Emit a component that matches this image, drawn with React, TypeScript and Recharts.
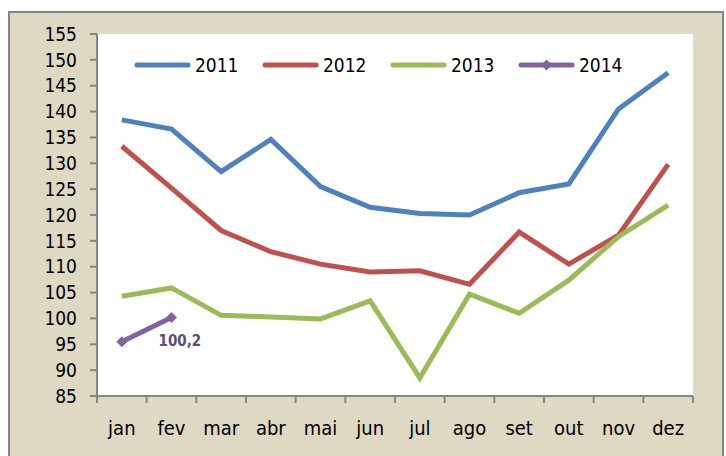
import { CartesianGrid, LabelList, Line, LineChart, XAxis, YAxis } from 'recharts';

const months = ['jan', 'fev', 'mar', 'abr', 'mai', 'jun', 'jul', 'ago', 'set', 'out', 'nov', 'dez'];
const values2011 = [138.4, 136.6, 128.4, 134.6, 125.5, 121.5, 120.3, 120.0, 124.3, 126.0, 140.5, 147.5];
const values2012 = [133.3, 125.2, 117.0, 112.9, 110.5, 109.0, 109.2, 106.6, 116.7, 110.5, 116.1, 129.8];
const values2013 = [104.3, 105.9, 100.6, 100.3, 99.9, 103.4, 88.5, 104.7, 101.0, 107.4, 115.8, 121.9];
const values2014 = [95.5, 100.2];
const yTicks = [85, 90, 95, 100, 105, 110, 115, 120, 125, 130, 135, 140, 145, 150, 155];

const FONT = "'DejaVu Sans Condensed', 'Liberation Sans Narrow', sans-serif";
const AXIS = '#868686';
const PLOT_W = 596;
const BAND = PLOT_W / months.length;

const series = [
  { key: 'y2011', name: '2011', color: '#4F81BD' },
  { key: 'y2012', name: '2012', color: '#C0504D' },
  { key: 'y2013', name: '2013', color: '#9BBB59' },
  { key: 'y2014', name: '2014', color: '#8064A2' },
];

const data = months.map((m, i) => ({
  month: m,
  y2011: values2011[i],
  y2012: values2012[i],
  y2013: values2013[i],
  y2014: i < values2014.length ? values2014[i] : null,
}));

function Diamond({ cx, cy, fill }: any) {
  if (cx == null || cy == null) return null;
  const r = 5.5;
  return <path d={`M${cx},${cy - r}L${cx + r},${cy}L${cx},${cy + r}L${cx - r},${cy}Z`} fill={fill} />;
}

function MonthTick({ x, y, payload, index }: any) {
  const left = x - BAND / 2;
  return (
    <g>
      <line x1={left} y1={y} x2={left} y2={y + 7} stroke={AXIS} strokeWidth={2} />
      {index === months.length - 1 && (
        <line x1={x + BAND / 2} y1={y} x2={x + BAND / 2} y2={y + 7} stroke={AXIS} strokeWidth={2} />
      )}
      <text x={x} y={y + 39} textAnchor="middle" fontFamily={FONT} fontSize={20} fill="#000">
        {payload.value}
      </text>
    </g>
  );
}

// legend drawn outside the chart so it doesn't shrink the plot area
function ChartLegend() {
  return (
    <div
      style={{
        position: 'absolute',
        left: 134,
        top: 54,
        display: 'flex',
        fontFamily: FONT,
        fontSize: 19,
        lineHeight: '22px',
        color: '#000',
      }}
    >
      {series.map((s) => (
        <div key={s.key} style={{ display: 'flex', alignItems: 'center', width: 128 }}>
          <svg width={57} height={14}>
            <line x1={3} y1={7} x2={54} y2={7} stroke={s.color} strokeWidth={5} strokeLinecap="round" />
            {s.key === 'y2014' && <Diamond cx={28.5} cy={7} fill={s.color} />}
          </svg>
          <span style={{ marginLeft: 4 }}>{s.name}</span>
        </div>
      ))}
    </div>
  );
}

function LastLabel({ x, y, value, index }: any) {
  if (index !== 1) return null;
  return (
    <text x={x - 13} y={y + 29} fontFamily={FONT} fontSize={15} fontWeight="bold" fill="#604A7B">
      {String(value).replace('.', ',')}
    </text>
  );
}

export default function App() {
  return (
    <div style={{ position: 'absolute', left: 0, top: 0, width: 726, height: 456, background: '#fff', overflow: 'hidden' }}>
      <div
        style={{
          position: 'absolute',
          left: 8,
          top: 11,
          width: 712,
          height: 460,
          background: '#DDD9C3',
          border: '2px solid #858585',
        }}
      />
      <div style={{ position: 'absolute', left: 0, top: 0 }}>
        <LineChart width={726} height={456} data={data} margin={{ top: 34, right: 33, bottom: 20, left: 37 }}>
          <CartesianGrid horizontal={false} vertical={false} fill="#fff" stroke="none" />
          <XAxis
            dataKey="month"
            scale="band"
            axisLine={{ stroke: AXIS, strokeWidth: 2 }}
            tickLine={false}
            tickSize={0}
            tickMargin={0}
            height={40}
            interval={0}
            tick={<MonthTick />}
          />
          <YAxis
            domain={[85, 155]}
            ticks={yTicks}
            interval={0}
            width={60}
            axisLine={{ stroke: AXIS, strokeWidth: 2 }}
            tickLine={{ stroke: AXIS, strokeWidth: 2 }}
            tickSize={7}
            tickMargin={13}
            tick={{ fontFamily: FONT, fontSize: 19, fill: '#000' }}
          />
          {series.slice(0, 3).map((s) => (
            <Line
              key={s.key}
              dataKey={s.key}
              name={s.name}
              stroke={s.color}
              strokeWidth={5}
              dot={false}
              activeDot={false}
              isAnimationActive={false}
            />
          ))}
          <Line
            dataKey="y2014"
            name="2014"
            stroke="#8064A2"
            strokeWidth={5}
            dot={<Diamond fill="#8064A2" />}
            activeDot={false}
            isAnimationActive={false}
          >
            <LabelList dataKey="y2014" content={<LastLabel />} />
          </Line>
        </LineChart>
      </div>
      <ChartLegend />
    </div>
  );
}
